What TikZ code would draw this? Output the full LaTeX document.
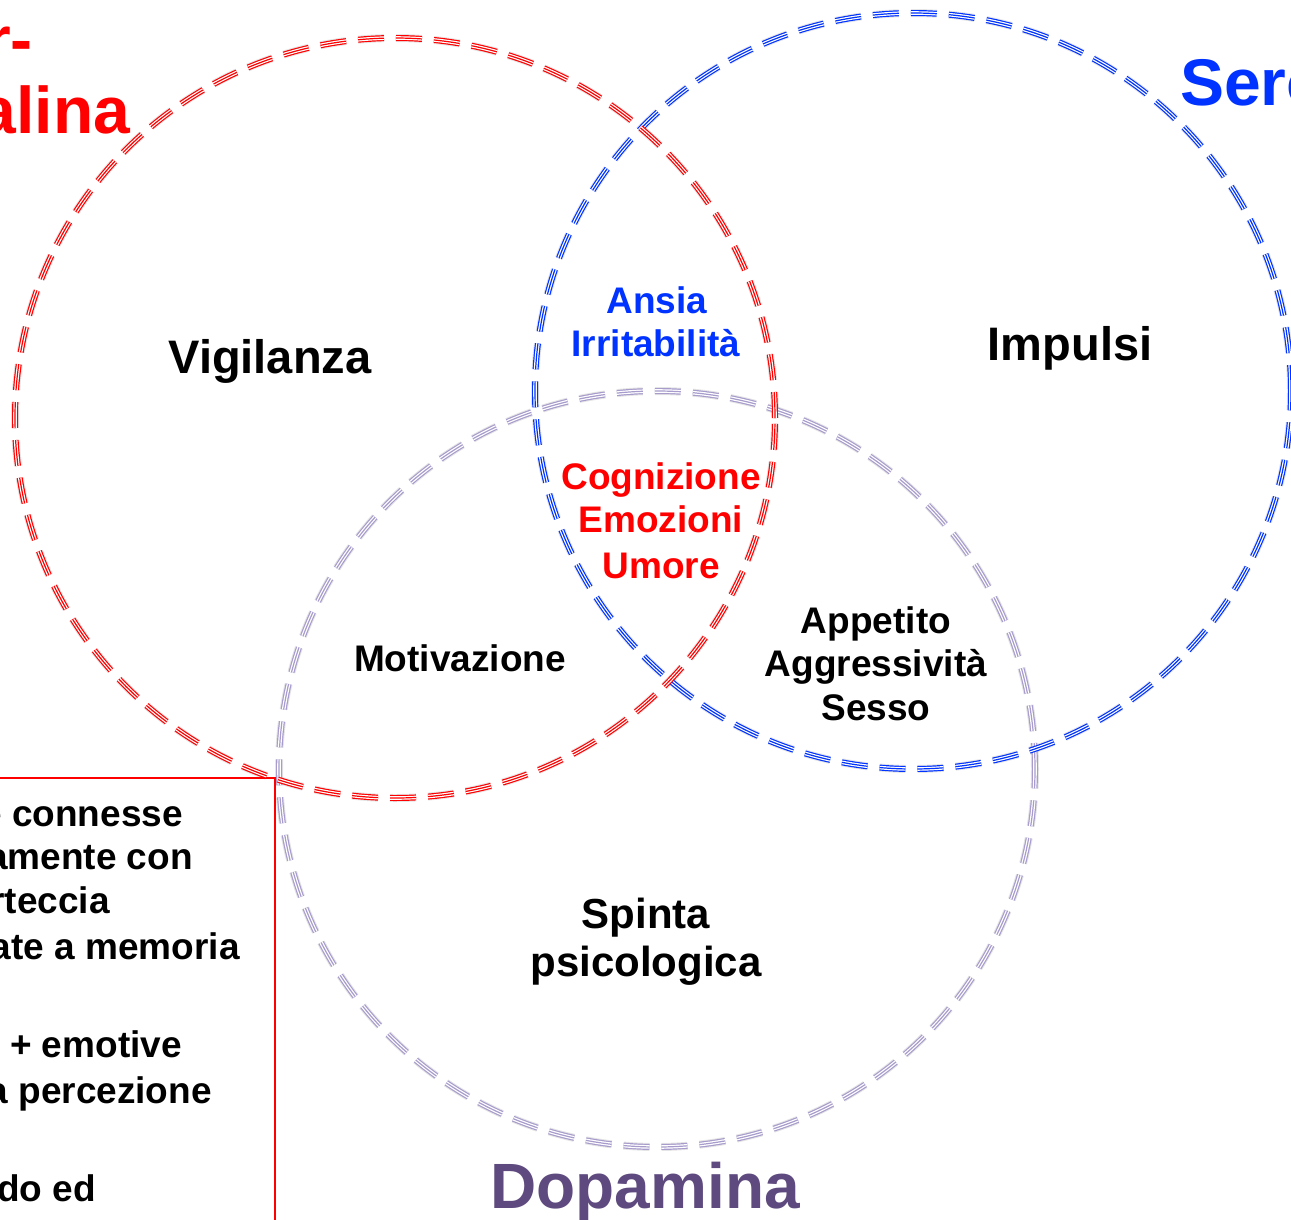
\documentclass[tikz,border=0pt]{standalone}
\usepackage{fontspec}
\setmainfont{Liberation Sans}
\definecolor{noraRed}{RGB}{255,0,0}
\definecolor{seroBlue}{RGB}{0,51,255}
\definecolor{dopaRing}{RGB}{168,156,204}
\definecolor{dopaText}{RGB}{94,74,126}
\begin{document}
\begin{tikzpicture}[x=1pt,y=-1pt,
  dashring/.style={dash pattern=on 26pt off 12pt},
  big/.style={font=\bfseries\fontsize{66}{71}\selectfont, inner sep=0pt},
  mid/.style={font=\bfseries\fontsize{47}{52}\selectfont, inner sep=0pt},
  sml/.style={font=\bfseries\fontsize{37}{44}\selectfont, inner sep=0pt},
  spn/.style={font=\bfseries\fontsize{42}{50}\selectfont, inner sep=0pt}]
\useasboundingbox (0,0) rectangle (1291,1219);
\clip (0,0) rectangle (1291,1219);

% centres of the three rings
\coordinate (nora) at (395,418);
\coordinate (sero) at (913,391);
\coordinate (dopa) at (657,769);

% triple dashed ring: wide stroke, white core, thin centre line
\newcommand\tripring[3]{%
  \draw[#1, line width=6pt, dashring] (#2) circle[radius=#3];
  \draw[white, line width=3.6pt, dashring] (#2) circle[radius=#3];
  \draw[#1, line width=1.2pt, dashring] (#2) circle[radius=#3];}

% soft drop shadows of the rings
\begin{scope}[shift={(3,4)}]
  \foreach \c/\r in {nora/380pt, sero/378pt, dopa/378pt}
    \draw[black, opacity=.10, line width=8pt, dashring] (\c) circle[radius=\r];
\end{scope}

% red frame of the side box
\coordinate (boxL) at (-5,778);
\coordinate (boxC) at (275,778);
\coordinate (boxB) at (275,1225);
\draw[noraRed, line width=1.8pt] (boxL) -- (boxC) -- (boxB);

\tripring{dopaRing}{dopa}{378pt}
\tripring{seroBlue}{sero}{378pt}
\tripring{noraRed}{nora}{380pt}

% transmitter names
\node[big, text=noraRed, anchor=base] (nor1) at (-35,62) {Nor-};
\node[big, text=noraRed, anchor=base] (nor2) at (-35,133) {adrenalina};
\node[big, text=seroBlue, anchor=base west] (serot) at (1180,105) {Serotonina};
\node[big, text=dopaText, anchor=base, font=\bfseries\fontsize{64}{70}\selectfont] (dopat) at (645,1208) {Dopamina};

% single regions
\node[mid, anchor=base] (vig) at (270,373) {Vigilanza};
\node[mid, anchor=base] (imp) at (1070,360) {Impulsi};
\node[spn, anchor=base] (sp1) at (646,928) {Spinta};
\node[spn, anchor=base] (sp2) at (646,976) {psicologica};

% pairwise overlaps
\node[sml, text=seroBlue, anchor=base] (ans1) at (657,313) {Ansia};
\node[sml, text=seroBlue, anchor=base] (ans2) at (656,356) {Irritabilità};
\node[sml, anchor=base] (mot) at (460,671) {Motivazione};
\node[sml, anchor=base] (app1) at (876,633) {Appetito};
\node[sml, anchor=base] (app2) at (876,676) {Aggressività};
\node[sml, anchor=base] (app3) at (876,720) {Sesso};

% triple overlap
\node[sml, text=noraRed, anchor=base] (cog1) at (661,489) {Cognizione};
\node[sml, text=noraRed, anchor=base] (cog2) at (661,532) {Emozioni};
\node[sml, text=noraRed, anchor=base] (cog3) at (661,578) {Umore};

% side box text
\node[sml, anchor=base east] (bx1) at (183,826) {e connesse};
\node[sml, anchor=base east] (bx2) at (193,869) {amente con};
\node[sml, anchor=base east] (bx3) at (110,913) {rteccia};
\node[sml, anchor=base east] (bx4) at (240,959) {ate a memoria};
\node[sml, anchor=base east] (bx5) at (182,1057) {+ emotive};
\node[sml, anchor=base east] (bx6) at (212,1103) {a percezione};
\node[sml, anchor=base east] (bx7) at (96,1201) {do ed};
\end{tikzpicture}
\end{document}
